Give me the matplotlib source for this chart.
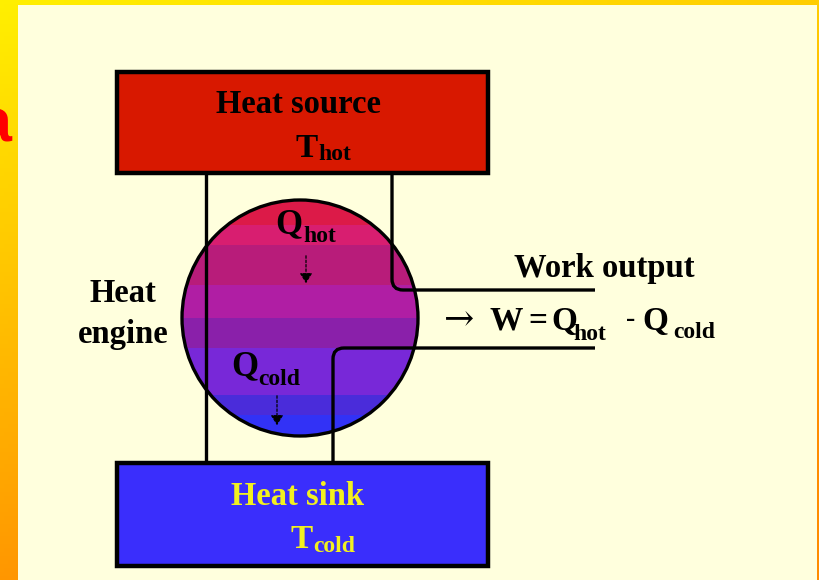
import numpy as np
import matplotlib
matplotlib.use("Agg")
import matplotlib.pyplot as plt
from matplotlib.patches import Rectangle, Circle, FancyArrowPatch
from matplotlib.path import Path
from matplotlib.patches import PathPatch

# ---- content ----
source_label = "Heat source"
sink_label = "Heat sink"
engine_label = ["Heat", "engine"]
work_label = "Work output"
t_hot = ("T", "hot")
t_cold = ("T", "cold")
q_hot = ("Q", "hot")
q_cold = ("Q", "cold")
band_colors = ["#DC1A48", "#D81E70", "#B81C7A", "#B01EA4", "#8A20AA",
               "#7828D8", "#4A2CDA", "#3232F6"]
band_edges = [190, 225, 245, 285, 318, 348, 395, 415, 445]

W, H = 819, 580
fig = plt.figure(figsize=(W / 100, H / 100), dpi=100)
ax = fig.add_axes([0, 0, 1, 1])
ax.set_xlim(0, W)
ax.set_ylim(H, 0)
ax.axis("off")

SERIF = "Liberation Serif"

# background gradient (yellow -> orange)
yy, xx = np.mgrid[0:H:4, 0:W:4]
t = np.clip(yy / H * 0.9 + xx / W * 0.35, 0, 1)
c0 = np.array([1.0, 0.94, 0.0])
c1 = np.array([1.0, 0.55, 0.0])
img = c0[None, None, :] * (1 - t[..., None]) + c1[None, None, :] * t[..., None]
ax.imshow(img, extent=[0, W, H, 0], aspect="auto", zorder=0)

# partial red letter on left edge
ax.text(11, 142, "a", ha="right", va="baseline", fontsize=44, color="#FF0000",
        fontweight="bold", family="Liberation Sans", zorder=1)

# cream panel
ax.add_patch(Rectangle((18, 5), 799, 580, facecolor="#FFFFDD", edgecolor="none", zorder=2))

LW = 2.4

# heat source box
ax.add_patch(Rectangle((117, 72), 371, 101, facecolor="#D81800", edgecolor="black",
                       linewidth=3.2, zorder=5))
ax.text(298, 113, source_label, ha="center", va="baseline", fontsize=23.5,
        fontweight="bold", family=SERIF, color="black", zorder=6)
ax.text(318, 157, t_hot[0], ha="right", va="baseline", fontsize=24,
        fontweight="bold", family=SERIF, color="black", zorder=6)
ax.text(318, 160, t_hot[1], ha="left", va="baseline", fontsize=17,
        fontweight="bold", family=SERIF, color="black", zorder=6)

# heat sink box
ax.add_patch(Rectangle((117, 463), 371, 103, facecolor="#3A2EFC", edgecolor="black",
                       linewidth=3.2, zorder=5))
ax.text(298, 505, sink_label, ha="center", va="baseline", fontsize=23.5,
        fontweight="bold", family=SERIF, color="#F2F020", zorder=6)
ax.text(313, 548, t_cold[0], ha="right", va="baseline", fontsize=24,
        fontweight="bold", family=SERIF, color="#F2F020", zorder=6)
ax.text(313, 552, t_cold[1], ha="left", va="baseline", fontsize=17,
        fontweight="bold", family=SERIF, color="#F2F020", zorder=6)

# engine circle with bands
cx, cy, r = 300, 318, 118
clip = Circle((cx, cy), r, transform=ax.transData)
for i, col in enumerate(band_colors):
    rect = Rectangle((cx - r - 5, band_edges[i]), 2 * r + 10,
                     band_edges[i + 1] - band_edges[i], facecolor=col,
                     edgecolor="none", zorder=3)
    rect.set_clip_path(clip)
    ax.add_patch(rect)
ax.add_patch(Circle((cx, cy), r, facecolor="none", edgecolor="black",
                    linewidth=LW, zorder=4))

# connecting lines
ax.plot([206, 206], [173, 463], color="black", linewidth=LW, zorder=4.5,
        solid_capstyle="butt")
rc = 11
verts = [(392, 173), (392, 290 - rc), (392, 290), (392 + rc, 290), (595, 290)]
codes = [Path.MOVETO, Path.LINETO, Path.CURVE3, Path.CURVE3, Path.LINETO]
ax.add_patch(PathPatch(Path(verts, codes), facecolor="none", edgecolor="black",
                       linewidth=LW, zorder=4.5, capstyle="butt"))
verts = [(595, 348), (333 + rc, 348), (333, 348), (333, 348 + rc), (333, 463)]
ax.add_patch(PathPatch(Path(verts, codes), facecolor="none", edgecolor="black",
                       linewidth=LW, zorder=4.5, capstyle="butt"))

# Q labels in circle
ax.text(302, 233, q_hot[0], ha="right", va="baseline", fontsize=25,
        fontweight="bold", family=SERIF, color="black", zorder=6)
ax.text(303, 242, q_hot[1], ha="left", va="baseline", fontsize=17,
        fontweight="bold", family=SERIF, color="black", zorder=6)
ax.text(258, 375, q_cold[0], ha="right", va="baseline", fontsize=25,
        fontweight="bold", family=SERIF, color="black", zorder=6)
ax.text(258, 385, q_cold[1], ha="left", va="baseline", fontsize=17,
        fontweight="bold", family=SERIF, color="black", zorder=6)

for (x, y0, y1) in [(306, 253, 286), (277, 393, 428)]:
    ax.add_patch(FancyArrowPatch((x, y0), (x, y1), arrowstyle="-|>,head_length=4,head_width=2.5",
                                 linestyle=(0, (2, 1.5)), linewidth=0.9, color="black",
                                 mutation_scale=1.5, zorder=6))

# heat engine label
ax.text(123, 302, engine_label[0], ha="center", va="baseline", fontsize=23.5,
        fontweight="bold", family=SERIF, color="black", zorder=6)
ax.text(123, 343, engine_label[1], ha="center", va="baseline", fontsize=23.5,
        fontweight="bold", family=SERIF, color="black", zorder=6)

# work output
ax.text(604, 277, work_label, ha="center", va="baseline", fontsize=23.5,
        fontweight="bold", family=SERIF, color="black", zorder=6)
ax.text(444, 330, "\u2192", ha="left", va="baseline", fontsize=26,
        family="DejaVu Serif", color="black", zorder=6)
eq_parts = [("W", 489, 330, 24), ("=", 528, 330, 24), ("Q", 551, 330, 24),
            ("hot", 573, 340, 17), ("-", 626, 326, 20), ("Q", 642, 330, 24),
            ("cold", 673, 338, 17)]
for s, x, y, fs in eq_parts:
    ax.text(x, y, s, ha="left", va="baseline", fontsize=fs,
            fontweight="bold", family=SERIF, color="black", zorder=6)

fig.savefig("out.png", dpi=100)
